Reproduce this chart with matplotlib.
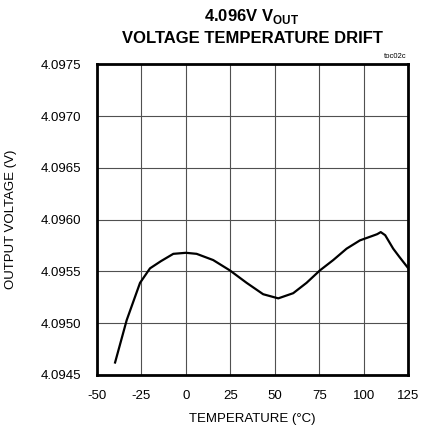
import numpy as np
import matplotlib.pyplot as plt

plt.rcParams['font.family'] = ['Liberation Sans', 'DejaVu Sans']
plt.rcParams['mathtext.fontset'] = 'custom'
plt.rcParams['mathtext.rm'] = 'Liberation Sans:bold'

# temperature (C) vs output voltage (V)
temp = [-40, -33.3, -25.8, -20.2, -14, -7.1, 0, 6.0, 15.3, 24.7, 34.1, 43.4,
        51.9, 60.3, 67.8, 75.3, 82.8, 90.3, 97.8, 104.3, 107.5, 109.5,
        112, 116.5, 120, 125]
vout = [4.09461, 4.09503, 4.09539, 4.09553, 4.09560, 4.09567, 4.09568, 4.09567,
        4.09561, 4.09551, 4.09539, 4.09528, 4.09524, 4.09529, 4.09539,
        4.09551, 4.09561, 4.09572, 4.09580, 4.09584, 4.09586, 4.09588,
        4.09585, 4.09572, 4.09564, 4.09553]

xticks = [-50, -25, 0, 25, 50, 75, 100, 125]
yticks = [4.0945, 4.0950, 4.0955, 4.0960, 4.0965, 4.0970, 4.0975]

fig = plt.figure(figsize=(4.33, 4.32), dpi=100)
ax = fig.add_axes([0.224, 0.132, 0.719, 0.719])

ax.plot(temp, vout, color='black', lw=1.6, solid_capstyle='butt')

ax.set_xlim(-50, 125)
ax.set_ylim(4.0945, 4.0975)
ax.set_xticks(xticks)
ax.set_yticks(yticks)
ax.set_xticklabels([str(t) for t in xticks])
ax.set_yticklabels(['%.4f' % v for v in yticks])
ax.tick_params(length=0, labelsize=9.5)
ax.tick_params(axis='x', pad=10.5)
ax.tick_params(axis='y', pad=11.5)
ax.grid(True, color='#505050', lw=0.8)
for s in ax.spines.values():
    s.set_linewidth(2.0)

ax.set_xlabel('TEMPERATURE (°C)', fontsize=9.5)
ax.set_ylabel('OUTPUT VOLTAGE (V)', fontsize=9.5)
ax.xaxis.set_label_coords(0.5, -0.122)
ax.yaxis.set_label_coords(-0.258, 0.5)

fig.text(0.582, 0.962, r'4.096V V$_{\rm OUT}$', ha='center', va='center',
         fontsize=12, fontweight='bold')
fig.text(0.582, 0.911, 'VOLTAGE TEMPERATURE DRIFT', ha='center', va='center',
         fontsize=12, fontweight='bold')
fig.text(0.938, 0.86, 'toc02c', ha='right', va='bottom', fontsize=5.5)

plt.savefig('out.png', dpi=100)
